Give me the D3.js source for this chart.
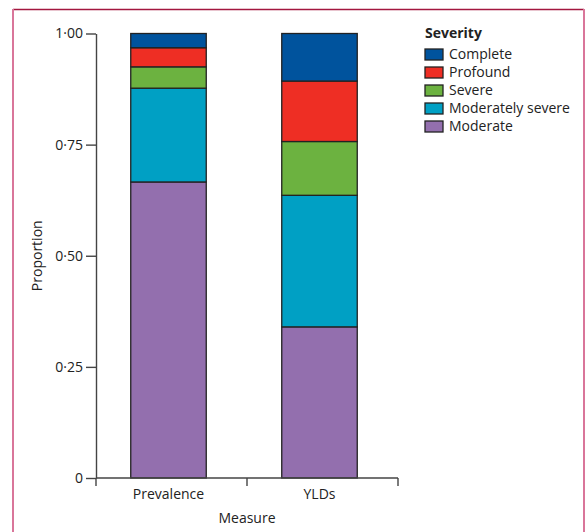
<!DOCTYPE html>
<html>
<head>
<meta charset="utf-8">
<script src="https://cdn.jsdelivr.net/npm/d3@7"></script>
<style>
  body { margin: 0; background: #fff; }
  text { font-family: "Open Sans", "Noto Sans", sans-serif; fill: #222; }
</style>
</head>
<body>
<div id="chart"></div>
<script>
// data -------------------------------------------------
var measures = ["Prevalence", "YLDs"];
var severities = ["Moderate", "Moderately severe", "Severe", "Profound", "Complete"];
var prevalence = [0.666, 0.211, 0.048, 0.043, 0.032];
var ylds = [0.340, 0.296, 0.121, 0.136, 0.107];
var colors = ["#936fae", "#00a0c4", "#6cb240", "#ee2e24", "#00539d"];
var yTicks = [0, 0.25, 0.5, 0.75, 1];

var width = 587, height = 532;
var margin = { left: 96, right: 189, top: 33.5, bottom: 54 };

var svg = d3.select("#chart").append("svg")
  .attr("width", width)
  .attr("height", height);

// frame around the figure
svg.append("line").attr("x1", 13).attr("x2", 584).attr("y1", 9.5).attr("y2", 9.5)
  .attr("stroke", "#a3173f").attr("stroke-width", 1.3);
svg.append("line").attr("x1", 13).attr("x2", 13).attr("y1", 9).attr("y2", height)
  .attr("stroke", "#d9769a").attr("stroke-width", 2);
svg.append("line").attr("x1", 584).attr("x2", 584).attr("y1", 9).attr("y2", height)
  .attr("stroke", "#d9769a").attr("stroke-width", 2);

var x = d3.scaleBand()
  .domain(measures)
  .range([margin.left, 398])
  .padding(0);

var y = d3.scaleLinear()
  .domain([0, 1])
  .range([height - margin.bottom, margin.top]);

// stack the values
var table = measures.map(function (m, i) {
  var vals = i === 0 ? prevalence : ylds;
  var row = { measure: m };
  severities.forEach(function (s, j) { row[s] = vals[j]; });
  return row;
});
var series = d3.stack().keys(severities)(table);

var barW = x.bandwidth() * 0.5;
var shift = -3; // bars sit a little left of the band centre
function barX(m) { return x(m) + (x.bandwidth() - barW) / 2 + shift; }

svg.append("g")
  .selectAll("g")
  .data(series)
  .enter()
  .append("g")
  .attr("fill", function (d, i) { return colors[i]; })
  .selectAll("rect")
  .data(function (d) { return d; })
  .enter()
  .append("rect")
  .attr("x", function (d) { return barX(d.data.measure); })
  .attr("width", barW)
  .attr("y", function (d) { return y(d[1]); })
  .attr("height", function (d) { return y(d[0]) - y(d[1]); })
  .attr("stroke", "#222")
  .attr("stroke-width", 1.3);

// y axis
var fmt = function (d) { return d === 0 ? "0" : d3.format(".2f")(d).replace(".", "\u00b7"); };
var yAxis = svg.append("g")
  .attr("transform", "translate(" + margin.left + ",0)")
  .call(d3.axisLeft(y).tickValues(yTicks).tickFormat(fmt).tickSize(10).tickSizeOuter(0).tickPadding(3));
yAxis.selectAll("text").style("font-size", "14px").attr("fill", "#222");
yAxis.selectAll("line, path").attr("stroke", "#444").attr("stroke-width", 1.4);

// x axis: ticks at band edges, labels under the bars
var xAxis = svg.append("g")
  .attr("transform", "translate(0," + y(0) + ")");
xAxis.append("line")
  .attr("x1", x.range()[0]).attr("x2", x.range()[1])
  .attr("stroke", "#444").attr("stroke-width", 1.4);
var edges = measures.map(function (m) { return x(m); }).concat([x.range()[1]]);
xAxis.selectAll(".edge")
  .data(edges)
  .enter()
  .append("line")
  .attr("class", "edge")
  .attr("x1", function (d) { return d; }).attr("x2", function (d) { return d; })
  .attr("y1", 0).attr("y2", 8)
  .attr("stroke", "#444").attr("stroke-width", 1.4);
xAxis.selectAll(".lab")
  .data(measures)
  .enter()
  .append("text")
  .attr("class", "lab")
  .attr("x", function (d) { return barX(d) + barW / 2; })
  .attr("y", 21)
  .attr("text-anchor", "middle")
  .style("font-size", "14px")
  .text(function (d) { return d; });

// axis titles
svg.append("text")
  .attr("x", x.range()[0] + (x.range()[1] - x.range()[0]) / 2)
  .attr("y", 523)
  .attr("text-anchor", "middle")
  .style("font-size", "14px")
  .text("Measure");
svg.append("text")
  .attr("transform", "translate(42," + y(0.5) + ") rotate(-90)")
  .attr("text-anchor", "middle")
  .style("font-size", "14px")
  .text("Proportion");

// legend
var legend = svg.append("g").attr("transform", "translate(425,38)");
legend.append("text")
  .attr("x", 0).attr("y", 0)
  .style("font-size", "14px")
  .style("font-weight", "bold")
  .text("Severity");
var order = severities.slice().reverse();
var items = legend.selectAll(".item")
  .data(order)
  .enter()
  .append("g")
  .attr("class", "item")
  .attr("transform", function (d, i) { return "translate(0," + (11 + i * 18) + ")"; });
items.append("rect")
  .attr("width", 18).attr("height", 11)
  .attr("fill", function (d) { return colors[severities.indexOf(d)]; })
  .attr("stroke", "#222").attr("stroke-width", 1.3);
items.append("text")
  .attr("x", 24).attr("y", 10)
  .style("font-size", "14px")
  .text(function (d) { return d; });
</script>
</body>
</html>
